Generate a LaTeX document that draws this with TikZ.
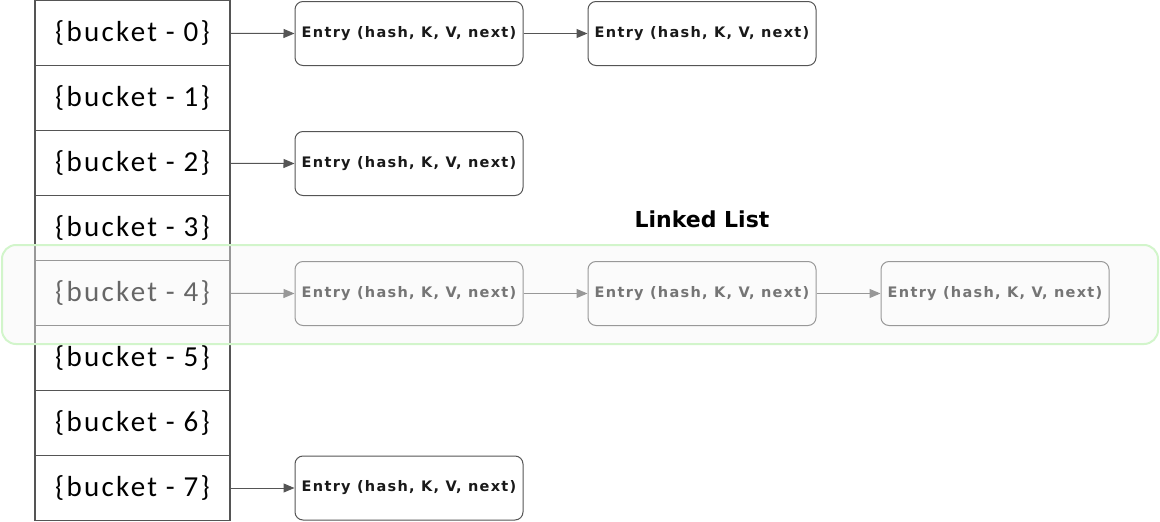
\documentclass[tikz,border=0pt]{standalone}
\usepackage{fontspec}
\newfontfamily\bucketfont[LetterSpace=8]{Carlito}
\newfontfamily\entryfont[LetterSpace=9]{DejaVu Sans}
\newfontfamily\titlefont{DejaVu Sans}
\usetikzlibrary{arrows.meta}
\definecolor{lineg}{HTML}{555555}
\definecolor{hlgreen}{HTML}{D2F5CB}
\tikzset{
  bucket/.style={draw=lineg, line width=1.1pt, minimum width=195pt, minimum height=65pt, inner sep=0pt,
    font=\bucketfont\fontsize{29}{31}\selectfont, text=black},
  entry/.style={draw=lineg, line width=1pt, rounded corners=8pt, minimum width=228pt, minimum height=64pt, inner sep=0pt,
    font=\entryfont\bfseries\fontsize{14.5}{16}\selectfont, text=black!90},
  link/.style={draw=lineg, line width=1pt, -{Triangle[length=11pt,width=9pt]}},
}
\begin{document}
\begin{tikzpicture}[x=1pt,y=-1pt]
\useasboundingbox (0,0) rectangle (1160,522);
\foreach \i in {0,...,7} {
  \node[bucket] (b\i) at (132.5, 33+65*\i) {\{bucket - \i\}};
}
\node[entry] (e00) at (409, 33.5) {Entry (hash, K, V, next)};
\node[entry] (e01) at (702, 33.5) {Entry (hash, K, V, next)};
\node[entry] (e20) at (409, 163.5) {Entry (hash, K, V, next)};
\node[entry] (e40) at (409, 293.5) {Entry (hash, K, V, next)};
\node[entry] (e41) at (702, 293.5) {Entry (hash, K, V, next)};
\node[entry] (e42) at (995, 293.5) {Entry (hash, K, V, next)};
\node[entry] (e70) at (409, 488) {Entry (hash, K, V, next)};
\draw[link] (b0) -- (e00.west);
\draw[link] (e00.east) -- (e01.west);
\draw[link] (b2) -- (e20.west);
\draw[link] (b4) -- (e40.west);
\draw[link] (e40.east) -- (e41.west);
\draw[link] (e41.east) -- (e42.west);
\draw[link] (b7) -- (e70.west);
\node[font=\titlefont\bfseries\fontsize{22}{24}\selectfont] (ll) at (702, 219) {Linked List};
\draw[draw=hlgreen, line width=2pt, fill=black!4, fill opacity=0.42, rounded corners=14pt] (2,245) rectangle (1158,344);
\end{tikzpicture}
\end{document}
